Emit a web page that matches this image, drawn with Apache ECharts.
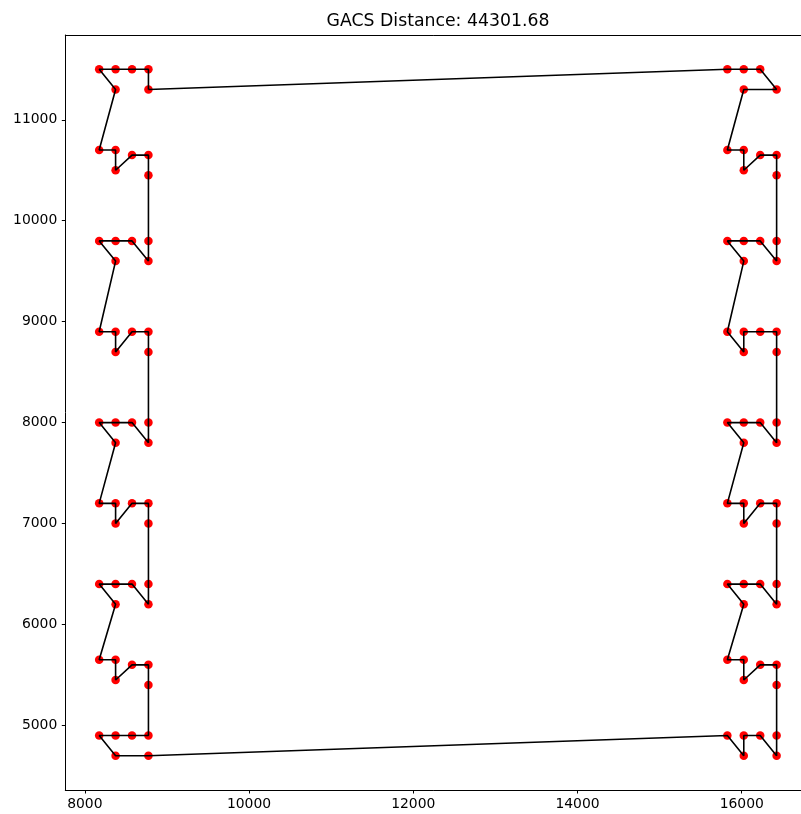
<!DOCTYPE html>
<html>
<head>
<meta charset="utf-8">
<script src="https://cdn.jsdelivr.net/npm/echarts@6/dist/echarts.min.js"></script>
<style>
html,body{margin:0;padding:0;background:#fff;}
#chart{width:801px;height:814px;}
</style>
</head>
<body>
<div id="chart"></div>
<script>
// Title
const titleText = "GACS Distance: 44301.68";

// Column x positions (left group and right group)
const L1 = 8175, L2 = 8375, L3 = 8575, L4 = 8775;
const R1 = 15825, R2 = 16025, R3 = 16225, R4 = 16425;

// Tour order: x values
const tourX = [
  L4, R1, R2, R3, R4, R2, R1, R2, R2, R3,
  R4, R4, R4, R4, R3, R2, R1, R2, R1, R2,
  R2, R3, R4, R4, R4, R4, R3, R2, R1, R2,
  R1, R2, R2, R3, R4, R4, R4, R4, R3, R2,
  R1, R2, R1, R2, R2, R3, R4, R4, R4, R4,
  R3, R2, R2, R1, L4, L2, L1, L2, L3, L4,
  L4, L4, L3, L2, L2, L1, L2, L1, L2, L3,
  L4, L4, L4, L4, L3, L2, L2, L1, L2, L1,
  L2, L3, L4, L4, L4, L4, L3, L2, L2, L1,
  L2, L1, L2, L3, L4, L4, L4, L4, L3, L2,
  L2, L1, L2, L1, L2, L3, L4
];
// Tour order: y values
const tourY = [
  11300, 11500, 11500, 11500, 11300, 11300, 10700, 10700, 10500, 10650,
  10650, 10450, 9800, 9600, 9800, 9800, 9800, 9600, 8900, 8700,
  8900, 8900, 8900, 8700, 8000, 7800, 8000, 8000, 8000, 7800,
  7200, 7200, 7000, 7200, 7200, 7000, 6400, 6200, 6400, 6400,
  6400, 6200, 5650, 5650, 5450, 5600, 5600, 5400, 4900, 4700,
  4900, 4900, 4700, 4900, 4700, 4700, 4900, 4900, 4900, 4900,
  5400, 5600, 5600, 5450, 5650, 5650, 6200, 6400, 6400, 6400,
  6200, 6400, 7000, 7200, 7200, 7000, 7200, 7200, 7800, 8000,
  8000, 8000, 7800, 8000, 8700, 8900, 8900, 8700, 8900, 8900,
  9600, 9800, 9800, 9800, 9600, 9800, 10450, 10650, 10650, 10500,
  10700, 10700, 11300, 11500, 11500, 11500, 11500
];

// Axis ticks
const xTicks = [8000, 10000, 12000, 14000, 16000];
const yTicks = [5000, 6000, 7000, 8000, 9000, 10000, 11000];

// Build series data
const cityPoints = tourX.map((x, i) => [x, tourY[i]]);
const tourPath = cityPoints.concat([cityPoints[0]]);

// matplotlib-like 5% margins; the figure is cropped on the right,
// so only part of the full x-range (745.2 px wide) is visible (735.7 px).
const xMinD = Math.min(...tourX), xMaxD = Math.max(...tourX);
const yMinD = Math.min(...tourY), yMaxD = Math.max(...tourY);
const xPad = (xMaxD - xMinD) * 0.05, yPad = (yMaxD - yMinD) * 0.05;
const xLo = xMinD - xPad, xHiFull = xMaxD + xPad;
const xHi = xLo + (xHiFull - xLo) * (735.7 / 745.2);

const font = "'DejaVu Sans', sans-serif";
const plain = v => String(v);
const chart = echarts.init(document.getElementById('chart'), null, {renderer: 'canvas'});
chart.setOption({
  animation: false,
  backgroundColor: '#ffffff',
  title: {
    text: titleText,
    left: 433,
    top: 8,
    textAlign: 'center',
    textStyle: {fontFamily: font, fontSize: 17.3, fontWeight: 'normal', color: '#000'}
  },
  grid: {
    left: 65.3, right: 0, top: 35, height: 755,
    containLabel: false
  },
  xAxis: [
    {
      type: 'value',
      position: 'bottom',
      min: xLo, max: xHi,
      splitLine: {show: false},
      axisLine: {show: true, onZero: false, lineStyle: {color: '#000', width: 1}},
      axisTick: {show: true, customValues: xTicks, length: 3.5, lineStyle: {color: '#000', width: 1}},
      axisLabel: {customValues: xTicks, formatter: plain, margin: 7, color: '#000', fontFamily: font, fontSize: 13.9}
    },
    {
      type: 'value',
      position: 'top',
      min: xLo, max: xHi,
      splitLine: {show: false},
      axisLine: {show: true, onZero: false, lineStyle: {color: '#000', width: 1}},
      axisTick: {show: false},
      axisLabel: {show: false}
    }
  ],
  yAxis: {
    type: 'value',
    min: yMinD - yPad, max: yMaxD + yPad,
    splitLine: {show: false},
    axisLine: {show: true, onZero: false, lineStyle: {color: '#000', width: 1}},
    axisTick: {show: true, customValues: yTicks, length: 3.5, lineStyle: {color: '#000', width: 1}},
    axisLabel: {customValues: yTicks, formatter: plain, margin: 8, color: '#000', fontFamily: font, fontSize: 13.9}
  },
  series: [
    {
      type: 'scatter',
      data: cityPoints,
      symbolSize: 8.5,
      itemStyle: {color: '#ff0000', opacity: 1},
      z: 2
    },
    {
      type: 'line',
      data: tourPath,
      showSymbol: false,
      symbol: 'none',
      lineStyle: {color: '#000', width: 1.6},
      z: 3
    }
  ]
});
</script>
</body>
</html>
